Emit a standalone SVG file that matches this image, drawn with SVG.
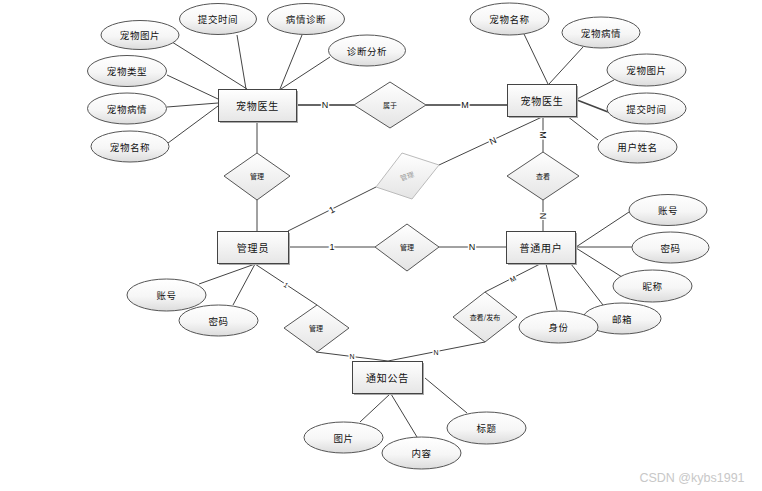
<svg xmlns="http://www.w3.org/2000/svg" width="762" height="491" viewBox="0 0 762 491">
<style>
text{font-family:"Noto Sans CJK SC","Liberation Sans",sans-serif;fill:#111;text-anchor:middle;dominant-baseline:central}
.at ellipse{fill:url(#eg);stroke:#555;stroke-width:1}
.at text{font-size:9.5px;letter-spacing:0.6px}
.en rect.s{fill:#aaa}
.en rect.b{fill:url(#rg);stroke:#444;stroke-width:1}
.en text{font-size:10px;letter-spacing:0.8px}
.rel polygon{fill:url(#dg);stroke:#555;stroke-width:1}
.rel text{font-size:7px}
#links line,#links polyline{stroke:#444;stroke-width:1;fill:none}
#links .thick{stroke:#666;stroke-width:2}
.lb{font-family:"Liberation Sans",sans-serif;font-size:9px;paint-order:stroke;stroke:#fff;stroke-width:3px}
</style>
<defs>
<linearGradient id="eg" x1="0" y1="0" x2="0" y2="1"><stop offset="0" stop-color="#ffffff"/><stop offset="0.55" stop-color="#f6f6f6"/><stop offset="1" stop-color="#dcdcdc"/></linearGradient>
<linearGradient id="rg" x1="0" y1="0" x2="0" y2="1"><stop offset="0" stop-color="#ffffff"/><stop offset="1" stop-color="#e6e6e6"/></linearGradient>
<linearGradient id="dg" x1="0" y1="0" x2="0" y2="1"><stop offset="0" stop-color="#ffffff"/><stop offset="1" stop-color="#e4e4e4"/></linearGradient>
</defs>
<rect width="762" height="491" fill="#fff"/>

<g id="links">
<!-- left doctor attributes -->
<line x1="172" y1="42" x2="247" y2="89"/>
<line x1="237" y1="35" x2="246" y2="89"/>
<line x1="302" y1="35" x2="280" y2="89"/>
<line x1="330" y1="57" x2="281" y2="89"/>
<line x1="167" y1="75" x2="218" y2="99"/>
<line x1="167" y1="107" x2="218" y2="103"/>
<line x1="168" y1="143" x2="218" y2="106"/>
<!-- right doctor attributes -->
<line x1="524" y1="34" x2="548" y2="84"/>
<line x1="583" y1="47" x2="549" y2="84"/>
<line x1="614" y1="80" x2="577" y2="99"/>
<line x1="608" y1="112" x2="577" y2="100" style="stroke-width:1.6"/>
<line x1="598" y1="140" x2="567" y2="116"/>
<!-- belongs -->
<line class="thick" x1="297" y1="105" x2="354" y2="105"/>
<line class="thick" x1="426" y1="105" x2="507" y2="105"/>
<!-- manage left vertical -->
<line x1="257" y1="122" x2="257" y2="153"/>
<line x1="257" y1="200" x2="257" y2="231"/>
<!-- grey manage -->
<line x1="288" y1="231" x2="376" y2="187"/>
<line x1="439" y1="165" x2="542" y2="117"/>
<!-- view -->
<line x1="543" y1="117" x2="543" y2="152"/>
<line x1="543" y1="200" x2="543" y2="231"/>
<!-- manage middle -->
<line x1="288" y1="247" x2="375" y2="247"/>
<line x1="439" y1="247" x2="506" y2="247"/>
<!-- user attributes -->
<line x1="629" y1="212" x2="576" y2="247"/>
<line x1="632" y1="247" x2="576" y2="247"/>
<line x1="622" y1="277" x2="576" y2="248"/>
<line x1="603" y1="305" x2="571" y2="264"/>
<line x1="557" y1="310" x2="546" y2="264"/>
<!-- admin attributes -->
<line x1="199" y1="284" x2="255" y2="264"/>
<line x1="233" y1="305" x2="255" y2="264"/>
<!-- admin manage notice -->
<line x1="255" y1="264" x2="317" y2="305"/>
<polyline points="316,352 388,361"/>
<!-- user view/publish notice -->
<line x1="540" y1="264" x2="485" y2="292"/>
<polyline points="485,342 388,361"/>
<!-- notice attributes -->
<line x1="360" y1="422" x2="390" y2="394"/>
<line x1="417" y1="437" x2="391" y2="394"/>
<line x1="467" y1="413" x2="425" y2="378"/>
<!-- labels -->
<text class="lb" x="325" y="105">N</text>
<text class="lb" x="465" y="105">M</text>
<text class="lb" x="543" y="135" transform="rotate(90 543 135)">M</text>
<text class="lb" x="493" y="141" transform="rotate(-25 493 141)">N</text>
<text class="lb" x="332" y="210" transform="rotate(-27 332 210)">1</text>
<text class="lb" x="543" y="216" transform="rotate(90 543 216)">N</text>
<text class="lb" x="332" y="247">1</text>
<text class="lb" x="472" y="247">N</text>
<text class="lb" x="513" y="279" style="font-size:7px" transform="rotate(-27 513 279)">M</text>
<text class="lb" x="286" y="285" style="font-size:7px" transform="rotate(33 286 285)">1</text>
<text class="lb" x="352" y="356" style="font-size:7px">N</text>
<text class="lb" x="436" y="352" style="font-size:7px">N</text>
</g>

<!-- entities -->
<g id="e-doctor-left" class="en"><rect class="s" x="220" y="91" width="78" height="32"/><rect class="b" x="218.5" y="89.5" width="78" height="32"/><text x="257.5" y="105.5">宠物医生</text></g>
<g id="e-doctor-right" class="en"><rect class="s" x="509" y="86" width="69" height="32"/><rect class="b" x="507.5" y="84.5" width="69" height="32"/><text x="542" y="100.5">宠物医生</text></g>
<g id="e-admin" class="en"><rect class="s" x="219" y="233" width="71" height="32"/><rect class="b" x="217.5" y="231.5" width="71" height="32"/><text x="253" y="247.5">管理员</text></g>
<g id="e-user" class="en"><rect class="s" x="508" y="233" width="69" height="32"/><rect class="b" x="506.5" y="231.5" width="69" height="32"/><text x="541" y="247.5">普通用户</text></g>
<g id="e-notice" class="en"><rect class="s" x="354" y="363" width="70" height="32"/><rect class="b" x="352.5" y="361.5" width="70" height="32"/><text x="387.5" y="377.5">通知公告</text></g>

<!-- relationships -->
<g id="r-belong" class="rel"><polygon points="390,82 426,105 390,128 354,105"/><text x="390" y="105">属于</text></g>
<g id="r-manage-doctor" class="rel"><polygon points="257,153 290,176 257,200 224,176"/><text x="257" y="176">管理</text></g>
<g id="r-manage-grey" class="rel"><polygon points="402,153 439,165 412,199 376,187" style="fill:url(#dg);stroke:#bbb"/><text x="407" y="176" style="fill:#999" transform="rotate(-19 407 176)">管理</text></g>
<g id="r-manage-user" class="rel"><polygon points="407,224 439,247 407,271 375,247"/><text x="407" y="247">管理</text></g>
<g id="r-view" class="rel"><polygon points="543,152 579,176 543,200 507,176"/><text x="543" y="176">查看</text></g>
<g id="r-manage-notice" class="rel"><polygon points="317,305 349,328 317,352 284,328"/><text x="316" y="328">管理</text></g>
<g id="r-view-publish" class="rel"><polygon points="485,292 517,317 485,342 453,317"/><text x="485" y="317">查看/发布</text></g>

<!-- attributes -->
<g id="a-l-img" class="at"><ellipse cx="140" cy="35" rx="39" ry="14.5"/><text x="140" y="35">宠物图片</text></g>
<g id="a-l-time" class="at"><ellipse cx="218" cy="19" rx="38.5" ry="15.5"/><text x="218" y="19">提交时间</text></g>
<g id="a-l-diag" class="at"><ellipse cx="306" cy="19" rx="38.5" ry="15.5"/><text x="306" y="19">病情诊断</text></g>
<g id="a-l-anal" class="at"><ellipse cx="367" cy="50.5" rx="38.5" ry="15.5"/><text x="367" y="50.5">诊断分析</text></g>
<g id="a-l-type" class="at"><ellipse cx="127" cy="71" rx="39.5" ry="15.5"/><text x="127" y="71">宠物类型</text></g>
<g id="a-l-cond" class="at"><ellipse cx="127" cy="108.5" rx="39.5" ry="15.5"/><text x="127" y="108.5">宠物病情</text></g>
<g id="a-l-name" class="at"><ellipse cx="130" cy="146.5" rx="39" ry="15.5"/><text x="130" y="146.5">宠物名称</text></g>

<g id="a-r-name" class="at"><ellipse cx="509.5" cy="19" rx="39.5" ry="16"/><text x="509.5" y="19">宠物名称</text></g>
<g id="a-r-cond" class="at"><ellipse cx="601" cy="32.5" rx="39" ry="15.5"/><text x="601" y="32.5">宠物病情</text></g>
<g id="a-r-img" class="at"><ellipse cx="646.5" cy="70" rx="39.5" ry="16"/><text x="646.5" y="70">宠物图片</text></g>
<g id="a-r-time" class="at"><ellipse cx="646.5" cy="108.5" rx="39.5" ry="15.5"/><text x="646.5" y="108.5">提交时间</text></g>
<g id="a-r-user" class="at"><ellipse cx="637.5" cy="147" rx="39.5" ry="16"/><text x="637.5" y="147">用户姓名</text></g>

<g id="a-u-acct" class="at"><ellipse cx="668" cy="210" rx="39" ry="15.5"/><text x="668" y="210">账号</text></g>
<g id="a-u-pwd" class="at"><ellipse cx="670.5" cy="247.5" rx="38.5" ry="15.5"/><text x="670.5" y="247.5">密码</text></g>
<g id="a-u-nick" class="at"><ellipse cx="652.5" cy="286" rx="39.5" ry="16"/><text x="652.5" y="286">昵称</text></g>
<g id="a-u-mail" class="at"><ellipse cx="622" cy="318.5" rx="39" ry="15.5"/><text x="622" y="318.5">邮箱</text></g>
<g id="a-u-role" class="at"><ellipse cx="558.5" cy="327" rx="39.5" ry="16"/><text x="558.5" y="327">身份</text></g>

<g id="a-a-acct" class="at"><ellipse cx="166.5" cy="295" rx="39.5" ry="16"/><text x="166.5" y="295">账号</text></g>
<g id="a-a-pwd" class="at"><ellipse cx="218.5" cy="320.5" rx="39.5" ry="15.5"/><text x="218.5" y="320.5">密码</text></g>

<g id="a-n-img" class="at"><ellipse cx="343.5" cy="437.5" rx="39.5" ry="15.5"/><text x="343.5" y="437.5">图片</text></g>
<g id="a-n-body" class="at"><ellipse cx="421.5" cy="453" rx="39.5" ry="16"/><text x="421.5" y="453">内容</text></g>
<g id="a-n-title" class="at"><ellipse cx="486.5" cy="428" rx="39.5" ry="16"/><text x="486.5" y="428">标题</text></g>

<text x="692" y="478" style="font-family:'Liberation Sans',sans-serif;font-size:12.5px;fill:#c8c8c8">CSDN @kybs1991</text>
</svg>
